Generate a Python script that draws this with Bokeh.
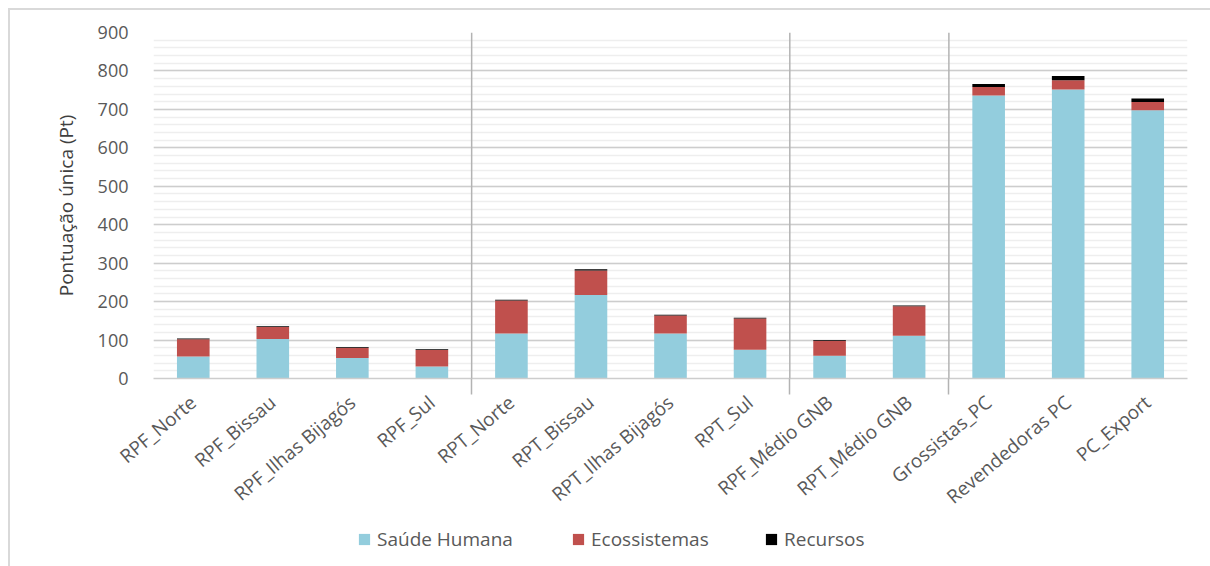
import math
from itertools import accumulate

from bokeh.embed import file_html
from bokeh.layouts import column
from bokeh.models import (ColumnDataSource, FixedTicker, Legend, LegendItem,
                          Range1d, SingleIntervalTicker, Span)
from bokeh.plotting import figure
from bokeh.resources import INLINE

# Single-score results per stage of the supply chain (Pt)
categories = ["RPF_Norte", "RPF_Bissau", "RPF_Ilhas Bijagós", "RPF_Sul",
              "RPT_Norte", "RPT_Bissau", "RPT_Ilhas Bijagós", "RPT_Sul",
              "RPF_Médio GNB", "RPT_Médio GNB",
              "Grossistas_PC", "Revendedoras PC", "PC_Export"]
saude_humana = [57, 103, 53, 31, 117, 217, 117, 75, 59, 111, 736, 752, 698]
ecossistemas = [45, 31, 27, 43, 86, 64, 47, 81, 39, 77, 22, 24, 21]
recursos = [2, 2, 2, 2, 2, 3, 2, 2, 2, 2, 8, 11, 9]
group_sizes = [4, 4, 2, 3]

series = ["Saúde Humana", "Ecossistemas", "Recursos"]
colors = ["#93CDDD", "#C0504D", "#000000"]

FONT = "Open Sans"
TEXT = "#595959"
WIDTH = 1200

x = list(range(len(categories)))
source = ColumnDataSource(dict(x=x, sh=saude_humana, eco=ecossistemas, rec=recursos))

# group separators sit between the last bar of one group and the first of the next
boundaries = [n - 0.5 for n in accumulate(group_sizes)][:-1]

p = figure(width=WIDTH, height=516,
           x_range=Range1d(-0.5, len(categories) - 0.5),
           y_range=Range1d(0, 900),
           output_backend="svg", toolbar_location=None,
           min_border_left=143, min_border_right=23,
           min_border_top=22, min_border_bottom=148)
p.outline_line_color = None
p.background_fill_color = "white"
p.border_fill_color = "white"

renderers = p.vbar_stack(["sh", "eco", "rec"], x="x", width=0.41,
                         color=colors, line_color=None, source=source)

for b in boundaries:
    p.add_layout(Span(location=b, dimension="height",
                      line_color="#b3b3b3", line_width=1.5))

# y axis
p.yaxis.ticker = SingleIntervalTicker(interval=100, num_minor_ticks=5)
p.yaxis.axis_line_color = None
p.yaxis.major_tick_line_color = None
p.yaxis.minor_tick_line_color = None
p.yaxis.major_label_standoff = 19
p.yaxis.major_label_text_font = FONT
p.yaxis.major_label_text_font_size = "18px"
p.yaxis.major_label_text_color = TEXT
p.yaxis.axis_label = "Pontuação única (Pt)"
p.yaxis.axis_label_text_font = FONT
p.yaxis.axis_label_text_font_size = "19px"
p.yaxis.axis_label_text_font_style = "normal"
p.yaxis.axis_label_text_color = "#404040"
p.yaxis.axis_label_standoff = 16

p.ygrid.grid_line_color = "#cdcdcd"
p.ygrid.grid_line_width = 1.5
p.ygrid.minor_grid_line_color = "#eeeeee"
p.ygrid.minor_grid_line_width = 1.5
p.xgrid.visible = False

# x axis: category names on the bars, separator marks between groups
p.xaxis.ticker = FixedTicker(ticks=x, minor_ticks=boundaries)
p.xaxis.major_label_overrides = {i: c for i, c in zip(x, categories)}
p.xaxis.major_label_orientation = math.radians(40)
p.xaxis.major_label_text_font = FONT
p.xaxis.major_label_text_font_size = "19px"
p.xaxis.major_label_text_color = TEXT
p.xaxis.major_label_standoff = 5
p.xaxis.major_tick_line_color = None
p.xaxis.minor_tick_in = 0
p.xaxis.minor_tick_out = 16
p.xaxis.minor_tick_line_color = "#b3b3b3"
p.xaxis.minor_tick_line_width = 1.5
p.xaxis.axis_line_color = "#cdcdcd"
p.xaxis.axis_line_width = 1.5

# legend strip under the chart, one entry per impact category
lg = figure(width=WIDTH, height=40, x_range=Range1d(0, 1), y_range=Range1d(0, 1),
            output_backend="svg", toolbar_location=None,
            x_axis_location=None, y_axis_location=None,
            min_border_left=0, min_border_right=0,
            min_border_top=0, min_border_bottom=0)
lg.outline_line_color = None
lg.xgrid.visible = False
lg.ygrid.visible = False
lg.border_fill_color = "white"

# offsets of each entry from the left edge of the plotting area
legend_x = [204, 418, 611]
for name, c, lx in zip(series, colors, legend_x):
    # zero-size bar: only supplies the swatch style to the legend
    swatch = lg.vbar(x=[0], bottom=[0], top=[0], width=0,
                     fill_color=c, line_color=None)
    lg.add_layout(Legend(items=[LegendItem(label=name, renderers=[swatch])],
                         location=(lx, 14), orientation="horizontal",
                         padding=0, margin=0, border_line_color=None,
                         background_fill_alpha=0,
                         glyph_width=14, glyph_height=14, label_standoff=6,
                         label_text_font=FONT, label_text_font_size="19px",
                         label_text_color=TEXT))

layout = column(p, lg, spacing=0,
                styles={"margin-left": "8px", "margin-top": "8px",
                        "border-top": "2px solid #d9d9d9",
                        "border-left": "2px solid #d9d9d9"})

open("out.html", "w").write(file_html(layout, INLINE))
